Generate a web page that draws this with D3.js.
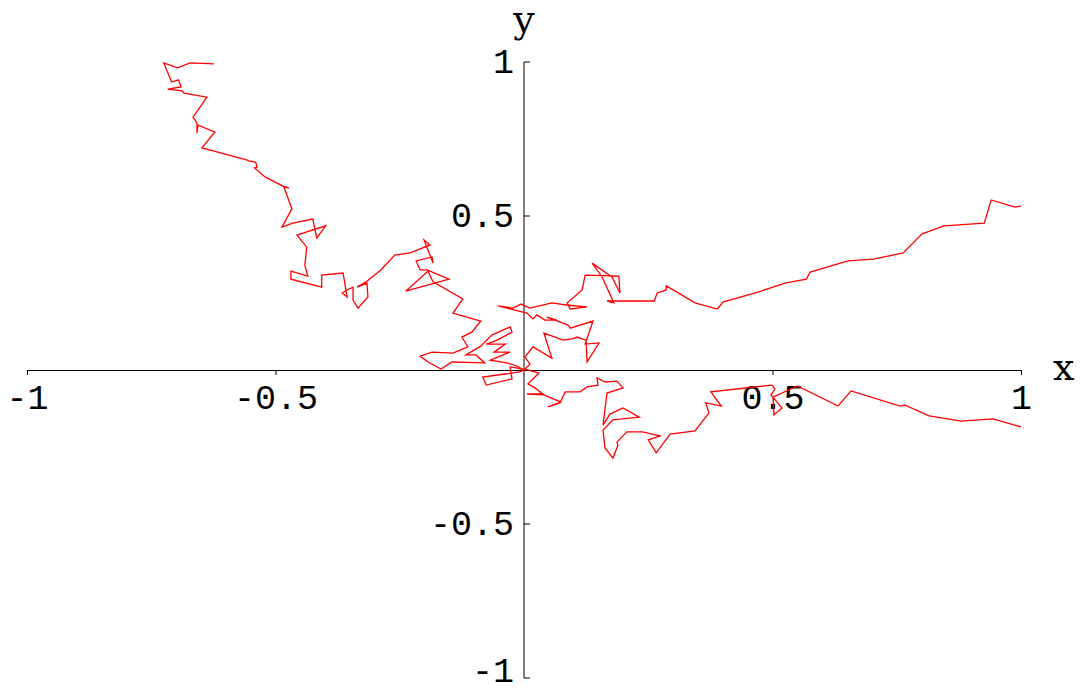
<!DOCTYPE html>
<html>
<head>
<meta charset="utf-8">
<script src="https://cdn.jsdelivr.net/npm/d3@7"></script>
<style>
  html, body { margin: 0; padding: 0; background: #fff; }
  svg { display: block; }
  .tick text { font-family: "Liberation Mono", monospace; font-size: 35px; fill: #000; }
</style>
</head>
<body>
<svg id="chart" width="1086" height="689"></svg>
<script>
// ---- data ----
const xDomain = [-1, 1];
const yDomain = [-1, 1];
const xTickValues = [-1, -0.5, 0.5, 1];
const yTickValues = [-1, -0.5, 0.5, 1];
const xTickLabels = ["-1", "-0.5", "0.5", "1"];
const yTickLabels = ["-1", "-0.5", "0.5", "1"];
const xAxisTitle = "x";
const yAxisTitle = "y";

// walk going up and to the left (from the origin outward)
const walkTopLeft = [
  [0,0],[-0.014,0.013],[-0.034,0.023],[-0.068,0.032],[-0.048,0.045],[-0.028,0.058],
  [-0.060,0.058],[-0.038,0.084],[-0.076,0.084],[-0.054,0.097],[-0.024,0.123],[-0.028,0.140],
  [-0.064,0.114],[-0.089,0.075],[-0.117,0.049],[-0.097,0.049],[-0.079,0.023],[-0.145,0.026],
  [-0.167,0.003],[-0.193,0.026],[-0.209,0.045],[-0.185,0.058],[-0.143,0.055],[-0.113,0.075],
  [-0.125,0.107],[-0.105,0.123],[-0.087,0.159],[-0.143,0.185],[-0.123,0.231],[-0.183,0.286],
  [-0.193,0.321],[-0.238,0.256],[-0.151,0.295],[-0.195,0.325],[-0.209,0.325],[-0.217,0.354],
  [-0.185,0.367],[-0.183,0.347],[-0.201,0.422],[-0.189,0.406],[-0.229,0.380],[-0.260,0.373],
  [-0.288,0.325],[-0.318,0.286],[-0.336,0.269],[-0.316,0.282],[-0.314,0.237],[-0.334,0.201],
  [-0.344,0.227],[-0.344,0.269],[-0.352,0.263],[-0.366,0.250],[-0.356,0.237],[-0.364,0.315],
  [-0.407,0.308],[-0.407,0.269],[-0.469,0.295],[-0.469,0.321],[-0.435,0.305],[-0.441,0.341],
  [-0.437,0.399],[-0.457,0.438],[-0.399,0.468],[-0.417,0.429],[-0.425,0.490],[-0.465,0.477],
  [-0.487,0.464],[-0.467,0.523],[-0.483,0.594],[-0.473,0.591],[-0.485,0.597],[-0.521,0.627],
  [-0.542,0.656],[-0.537,0.659],[-0.540,0.675],[-0.554,0.679],[-0.558,0.682],[-0.648,0.721],
  [-0.622,0.773],[-0.656,0.795],[-0.658,0.769],[-0.658,0.802],[-0.666,0.821],[-0.638,0.886],
  [-0.684,0.899],[-0.688,0.906],[-0.717,0.912],[-0.690,0.919],[-0.695,0.942],[-0.709,0.935],
  [-0.725,0.997],[-0.697,0.981],[-0.672,0.997],[-0.624,0.994]
];

// walk going to the right and upward
const walkUpperRight = [
  [0,0],[0.012,0.019],[0.002,0.042],[0.018,0.075],[0.056,0.039],[0.040,0.120],
  [0.079,0.097],[0.097,0.101],[0.107,0.107],[0.125,0.097],[0.127,0.026],[0.151,0.088],
  [0.123,0.084],[0.139,0.159],[0.093,0.136],[0.089,0.146],[0.046,0.172],[0.066,0.162],
  [0.042,0.162],[0.026,0.179],[0.018,0.166],[0.006,0.185],[-0.052,0.208],[-0.022,0.201],
  [-0.006,0.214],[0.012,0.201],[0.056,0.218],[0.085,0.211],[0.127,0.205],[0.093,0.198],
  [0.087,0.218],[0.117,0.260],[0.123,0.308],[0.191,0.305],[0.193,0.250],[0.177,0.302],
  [0.137,0.347],[0.157,0.302],[0.181,0.218],[0.167,0.224],[0.262,0.224],[0.268,0.250],
  [0.286,0.260],[0.286,0.273],[0.300,0.260],[0.344,0.218],[0.389,0.198],[0.401,0.221],
  [0.471,0.253],[0.525,0.282],[0.568,0.295],[0.576,0.318],[0.652,0.354],[0.703,0.360],
  [0.763,0.380],[0.801,0.442],[0.845,0.468],[0.926,0.477],[0.940,0.552],[0.988,0.529],
  [1.000,0.532]
];

// walk going to the right and downward
const walkLowerRight = [
  [0,0],[-0.012,0.006],[-0.028,0.010],[-0.024,-0.029],[-0.076,-0.049],[-0.083,-0.023],
  [-0.038,-0.013],[-0.008,-0.006],[0.002,0.003],[0.030,-0.010],[0.008,-0.045],[0.022,-0.058],
  [0.038,-0.078],[0.006,-0.078],[0.040,-0.081],[0.074,-0.104],[0.048,-0.120],[0.072,-0.107],
  [0.083,-0.071],[0.113,-0.071],[0.127,-0.055],[0.149,-0.049],[0.147,-0.026],[0.163,-0.039],
  [0.187,-0.036],[0.199,-0.058],[0.167,-0.075],[0.159,-0.179],[0.173,-0.143],[0.199,-0.123],
  [0.232,-0.153],[0.179,-0.162],[0.159,-0.195],[0.163,-0.253],[0.179,-0.286],[0.189,-0.244],
  [0.187,-0.234],[0.207,-0.201],[0.238,-0.201],[0.274,-0.214],[0.250,-0.227],[0.266,-0.269],
  [0.294,-0.208],[0.344,-0.198],[0.372,-0.140],[0.366,-0.107],[0.397,-0.117],[0.376,-0.071],
  [0.499,-0.049],[0.505,-0.062],[0.497,-0.081],[0.519,-0.123],[0.503,-0.146],[0.501,-0.088],
  [0.550,-0.052],[0.632,-0.117],[0.658,-0.068],[0.757,-0.117],[0.767,-0.114],[0.815,-0.149],
  [0.880,-0.166],[0.944,-0.159],[1.000,-0.185]
];

const walks = [walkTopLeft, walkUpperRight, walkLowerRight];

// ---- drawing ----
const svg = d3.select("#chart");
const x = d3.scaleLinear().domain(xDomain).range([27, 1021]);
const y = d3.scaleLinear().domain(yDomain).range([678, 62]);

// x axis through y = 0
const xAxis = d3.axisBottom(x)
  .tickValues(xTickValues)
  .tickFormat((d, i) => xTickLabels[i])
  .tickSizeInner(5).tickSizeOuter(0).tickPadding(9);
const gx = svg.append("g").attr("transform", `translate(0,${y(0)})`).call(xAxis);
gx.selectAll("path.domain, line").attr("stroke", "#000").attr("stroke-width", 1);

// y axis through x = 0 (ticks point right, labels on the left)
const yAxis = d3.axisLeft(y)
  .tickValues(yTickValues)
  .tickFormat((d, i) => yTickLabels[i])
  .tickSizeInner(-6).tickSizeOuter(0).tickPadding(10).offset(0);
const gy = svg.append("g").attr("transform", `translate(${x(0)},0)`).call(yAxis);
gy.selectAll("path.domain, line").attr("stroke", "#000").attr("stroke-width", 1);
// keep the bottom label inside the picture
gy.selectAll(".tick text").filter(d => d === -1).attr("dy", "0.1em");

// axis titles (Courier-like serif letters)
svg.append("text")
  .attr("x", x(1) + 32).attr("y", y(0) + 10)
  .attr("font-family", "DejaVu Serif, serif").attr("font-size", 38)
  .text(xAxisTitle);
svg.append("text")
  .attr("x", x(0)).attr("y", 32).attr("text-anchor", "middle")
  .attr("font-family", "DejaVu Serif, serif").attr("font-size", 38)
  .text(yAxisTitle);

// random-walk lines
const line = d3.line().x(d => x(d[0])).y(d => y(d[1]));
svg.append("g").selectAll("path")
  .data(walks)
  .join("path")
  .attr("d", line)
  .attr("fill", "none")
  .attr("stroke", "#ff0000")
  .attr("stroke-width", 1.3)
  .attr("stroke-linejoin", "miter");
</script>
</body>
</html>
